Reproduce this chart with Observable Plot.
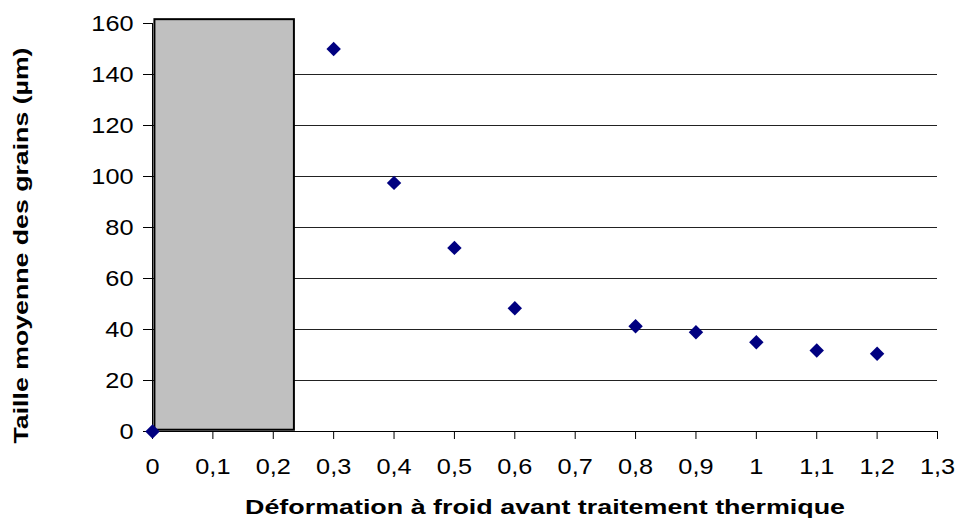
<!DOCTYPE html>
<html><head><meta charset="utf-8">
<script src="https://cdn.jsdelivr.net/npm/d3@7"></script>
<script src="https://cdn.jsdelivr.net/npm/@observablehq/plot@0.6"></script>
<style>body{margin:0;background:#fff;}</style>
</head><body><div id="chart"></div>
<script>
const deformation = [0, 0.3, 0.4, 0.5, 0.6, 0.8, 0.9, 1.0, 1.1, 1.2];
const grainSize = [0, 150, 97.5, 72, 48.3, 41.3, 38.9, 35, 31.8, 30.5];
const xTicks = [0, 0.1, 0.2, 0.3, 0.4, 0.5, 0.6, 0.7, 0.8, 0.9, 1, 1.1, 1.2, 1.3];
const yTicks = [0, 20, 40, 60, 80, 100, 120, 140, 160];
const gridY = [20, 40, 60, 80, 100, 120, 140];
const shadeX = [0.004, 0.235];
const shadeY = [0.5, 161.5];
const xTitle = "Déformation à froid avant traitement thermique";
const yTitle = "Taille moyenne des grains (µm)";

const points = deformation.map((d, i) => ({x: d, y: grainSize[i]}));
const shade = [{x1: shadeX[0], x2: shadeX[1], y1: shadeY[0], y2: shadeY[1]}];
const fmt = d => String(+d.toFixed(1)).replace(".", ",");

const chart = Plot.plot({
  width: 958,
  height: 526,
  marginLeft: 152,
  marginRight: 21,
  marginTop: 23,
  marginBottom: 95,
  style: {fontFamily: "'Liberation Sans', Arial, sans-serif", fontSize: "22px", color: "#000", background: "#fff"},
  x: {domain: [0, 1.3]},
  y: {domain: [0, 160]},
  marks: [
    Plot.ruleY(gridY, {x1: 0, x2: 1.3, stroke: "#222", strokeWidth: 1}),
    Plot.rect(shade, {x1: "x1", x2: "x2", y1: "y1", y2: "y2", fill: "#c0c0c0", stroke: "#000", strokeWidth: 2}),
    Plot.ruleX([0], {y1: 0, y2: 160, stroke: "#000", strokeWidth: 1}),
    Plot.ruleY([0], {x1: 0, x2: 1.3, stroke: "#000", strokeWidth: 1}),
    Plot.axisY({ticks: yTicks, tickSize: 9, tickPadding: 10, label: null, fontSize: 22, className: "tk"}),
    Plot.axisX({ticks: xTicks, tickSize: 8, tickPadding: 19, tickFormat: fmt, label: null, fontSize: 22, className: "tk"}),
    Plot.dot(points, {x: "x", y: "y", symbol: "diamond2", r: 6.5, fill: "#000080", stroke: "none"}),
    Plot.text([xTitle], {frameAnchor: "bottom", dy: 82, fontWeight: "bold", fontSize: 20, textAnchor: "middle", className: "xt"}),
    Plot.text([yTitle], {frameAnchor: "left", rotate: -90, dx: -131, dy: 18, fontWeight: "bold", fontSize: 20, textAnchor: "middle", className: "yt"})
  ]
});
document.getElementById("chart").append(chart);

function stretch(sel, f) {
  chart.querySelectorAll(sel).forEach(t => {
    const w = t.getComputedTextLength();
    t.setAttribute("textLength", (typeof f === "function" ? f(w) : w * f).toFixed(1));
    t.setAttribute("lengthAdjust", "spacingAndGlyphs");
  });
}
stretch(".tk text", 1.15);
stretch(".xt text", () => 600);
stretch(".yt text", () => 396);
</script>
</body></html>
